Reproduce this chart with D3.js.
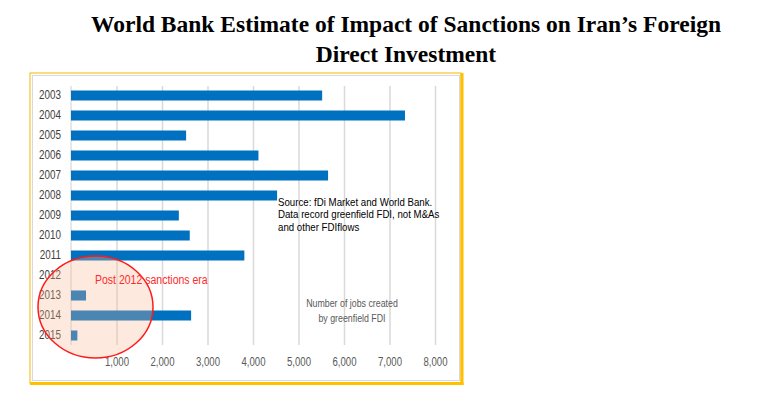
<!DOCTYPE html>
<html>
<head>
<meta charset="utf-8">
<script src="https://cdn.jsdelivr.net/npm/d3@7"></script>
<style>
  html, body { margin: 0; padding: 0; background: #ffffff; }
  svg { display: block; }
</style>
</head>
<body>
<svg id="chart" width="784" height="394"></svg>
<script>
const years = ["2003","2004","2005","2006","2007","2008","2009","2010","2011","2012","2013","2014","2015"];
const jobs = [5520, 7340, 2530, 4120, 5650, 4530, 2370, 2610, 3810, 0, 330, 2640, 140];
const xTicks = [1000, 2000, 3000, 4000, 5000, 6000, 7000, 8000];
const titleLines = ["World Bank Estimate of Impact of Sanctions on Iran\u2019s Foreign", "Direct Investment"];
const sourceLines = ["Source: fDi Market and World Bank.", "Data record greenfield FDI, not M&As", "and other FDIflows"];
const unitLines = ["Number of jobs created", "by greenfield FDI"];
const eraLabel = "Post 2012 sanctions era";

const svg = d3.select("#chart");
const sans = "'Liberation Sans', Arial, sans-serif";

// horizontally condense text to mimic a narrow (Calibri-like) face
function condense(sel, f) {
  sel.each(function () {
    const w = this.getComputedTextLength();
    d3.select(this).attr("textLength", w * f).attr("lengthAdjust", "spacingAndGlyphs");
  });
}

// Title
svg.append("g").selectAll("text").data(titleLines).join("text")
  .attr("x", 406).attr("y", (d, i) => 32 + i * 30)
  .attr("text-anchor", "middle")
  .attr("font-family", "'Liberation Serif', 'Times New Roman', serif")
  .attr("font-weight", "bold").attr("font-size", 23.5).attr("fill", "#000")
  .text(d => d);

// Frame
svg.append("rect").attr("x", 30).attr("y", 73).attr("width", 431).attr("height", 310)
  .attr("fill", "#fff").attr("stroke", "#f5b800").attr("stroke-width", 1);
svg.append("line").attr("x1", 462).attr("x2", 462).attr("y1", 73).attr("y2", 385)
  .attr("stroke", "#ffc000").attr("stroke-width", 3);
svg.append("line").attr("x1", 30).attr("x2", 463.5).attr("y1", 383.5).attr("y2", 383.5)
  .attr("stroke", "#ffc000").attr("stroke-width", 3);
svg.append("rect").attr("x", 32.5).attr("y", 75.5).attr("width", 427).attr("height", 305)
  .attr("fill", "none").attr("stroke", "#d9d9d9").attr("stroke-width", 1);

const x = d3.scaleLinear().domain([0, 8000]).range([71, 435]);
const y = d3.scaleBand().domain(years).range([85.5, 345.5]).paddingInner(0.5).paddingOuter(0.25);

// Grid + x axis labels
const xAxis = svg.append("g").attr("transform", "translate(0,345)")
  .call(d3.axisBottom(x).tickValues(xTicks).tickFormat(d3.format(",")).tickSize(-259).tickPadding(12));
xAxis.select(".domain").remove();
xAxis.selectAll(".tick line").attr("stroke", "#d9d9d9").attr("stroke-width", 1.5);
xAxis.selectAll(".tick text").attr("font-family", sans).attr("font-size", 12).attr("fill", "#595959")
  .call(condense, 0.8);

// zero line
svg.append("line").attr("x1", x(0)).attr("x2", x(0)).attr("y1", 86).attr("y2", 345)
  .attr("stroke", "#d0d0d0").attr("stroke-width", 1);

// y axis labels
const yAxis = svg.append("g").attr("transform", `translate(${x(0)},0)`)
  .call(d3.axisLeft(y).tickSize(0).tickPadding(10));
yAxis.select(".domain").remove();
yAxis.selectAll(".tick text").attr("font-family", sans).attr("font-size", 12).attr("fill", "#404040")
  .call(condense, 0.82);

// Bars
svg.append("g").selectAll("rect").data(years).join("rect")
  .attr("x", x(0)).attr("y", d => y(d))
  .attr("width", (d, i) => x(jobs[i]) - x(0))
  .attr("height", y.bandwidth())
  .attr("fill", "#0070c0");

// Sanctions era ellipse
svg.append("ellipse").attr("cx", 95.5).attr("cy", 307).attr("rx", 57.5).attr("ry", 51)
  .attr("fill", "rgb(248,182,145)").attr("fill-opacity", 0.3)
  .attr("stroke", "#ff1a1a").attr("stroke-width", 1.5);

svg.append("text").attr("x", 95).attr("y", 284)
  .attr("font-family", sans).attr("font-size", 12.5).attr("fill", "#ff2a2a")
  .text(eraLabel).call(condense, 0.84);

// Source note
svg.append("g").selectAll("text").data(sourceLines).join("text")
  .attr("x", 278).attr("y", (d, i) => 206 + i * 12.4)
  .attr("font-family", sans).attr("font-size", 11).attr("fill", "#000")
  .text(d => d).call(condense, 0.88);

// Units note
svg.append("g").selectAll("text").data(unitLines).join("text")
  .attr("x", 352).attr("y", (d, i) => 307 + i * 15)
  .attr("text-anchor", "middle")
  .attr("font-family", sans).attr("font-size", 10.5).attr("fill", "#595959")
  .text(d => d).call(condense, 0.84);
</script>
</body>
</html>
